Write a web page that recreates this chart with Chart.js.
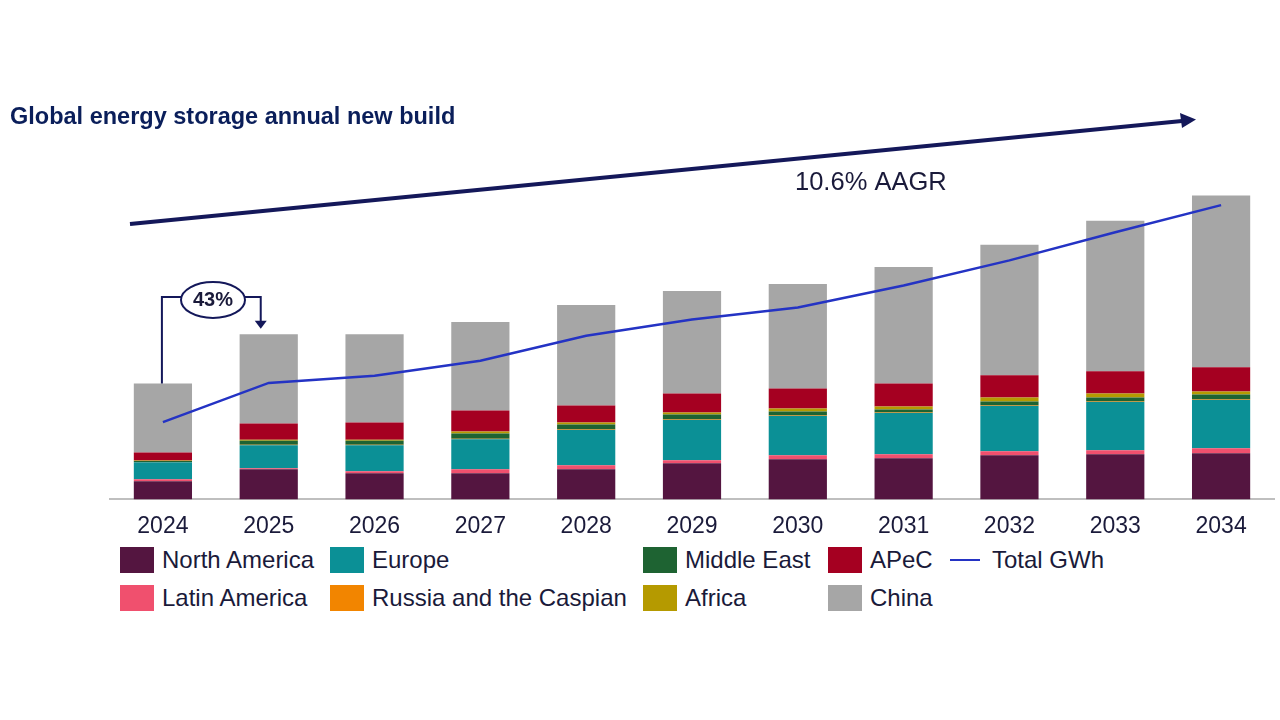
<!DOCTYPE html>
<html><head><meta charset="utf-8">
<script src="https://cdn.jsdelivr.net/npm/chart.js@4"></script>
<style>
body{margin:0;width:1280px;height:720px;background:#fff;font-family:"Liberation Sans",Arial,sans-serif;position:relative;overflow:hidden}
#c{position:absolute;left:0;top:0}
.lg{position:absolute;font-size:24px;color:#1a1a3a;display:flex;align-items:center}
.sw{width:34px;height:26px;margin-right:8px}
.ln{width:30px;height:2px;background:#2433c4;margin-right:12px}
</style></head><body>
<canvas id="c" width="1280" height="545"></canvas>
<div id="legend"></div>
<script>
const years=["2024","2025","2026","2027","2028","2029","2030","2031","2032","2033","2034"];
const northAmerica=[18,30,26,26,30,36,40,41,44,45,46];
const latinAmerica=[2,1,2,4,4,3,4,4,4,4,5];
const europe=[17,23,26,30,35,40,39,41,45,48,48];
const russiaCaspian=[0.3,0.5,0.5,0.5,0.5,0.5,0.5,0.5,0.5,0.5,0.5];
const middleEast=[1,4,4,5,5,5,4,3,4,4,5];
const africa=[0.5,1,1,2,2,2,3,3,4,4,3];
const apec=[8,16,17,21,17,19,20,23,22,22,24];
const china=[68.5,89,88,88,100,102,104,116,130,150,171];
const totalGWh=[77,116,123,138,163,179,191,213,238,266,293];
const series=[
 ["North America",northAmerica,"#541540"],
 ["Latin America",latinAmerica,"#f0506e"],
 ["Europe",europe,"#0b9096"],
 ["Russia and the Caspian",russiaCaspian,"#f28500"],
 ["Middle East",middleEast,"#1e6332"],
 ["Africa",africa,"#b59a00"],
 ["APeC",apec,"#a50021"],
 ["China",china,"#a6a6a6"]];
const navy="#14185a";
const overlay={id:"ov",afterDraw(ch){
 const c=ch.ctx,x=ch.scales.x,y=ch.scales.y;
 c.save();
 c.fillStyle="#0a1e5a";c.font="bold 23.5px 'Liberation Sans',Arial";c.textBaseline="middle";
 c.fillText("Global energy storage annual new build",10,118);
 c.strokeStyle=navy;c.fillStyle=navy;c.lineWidth=4;
 c.beginPath();c.moveTo(130,224);c.lineTo(1182,121);c.stroke();
 c.beginPath();c.moveTo(1196,119.5);c.lineTo(1180,113);c.lineTo(1182,128);c.closePath();c.fill();
 c.fillStyle="#1a1a3a";c.font="25.5px 'Liberation Sans',Arial";
 c.fillText("10.6% AAGR",795,183);
 const x0=x.getPixelForValue(0),x1=x.getPixelForValue(1);
 const yb=y.getPixelForValue(northAmerica[0]+latinAmerica[0]+europe[0]+russiaCaspian[0]+middleEast[0]+africa[0]+apec[0]+china[0]);
 const yt=y.getPixelForValue(164);
 c.lineWidth=2;c.strokeStyle=navy;
 c.beginPath();c.moveTo(x0-1,yb);c.lineTo(x0-1,297);c.lineTo(181,297);c.stroke();
 c.beginPath();c.moveTo(245,297);c.lineTo(x1-8,297);c.lineTo(x1-8,yt-12);c.stroke();
 c.fillStyle=navy;c.beginPath();c.moveTo(x1-14,yt-14);c.lineTo(x1-2,yt-14);c.lineTo(x1-8,yt-6);c.closePath();c.fill();
 c.beginPath();c.ellipse(213,300,32,18,0,0,2*Math.PI);c.fillStyle="#fff";c.fill();c.stroke();
 c.fillStyle="#1a1a3a";c.font="bold 20px 'Liberation Sans',Arial";c.textAlign="center";
 c.fillText("43%",213,300);
 c.restore();}};
new Chart(document.getElementById("c"),{
 data:{labels:years,datasets:[
  {type:"line",label:"Total GWh",data:totalGWh,borderColor:"#2433c4",borderWidth:2.5,pointRadius:0,tension:0,order:0},
  ...series.map(s=>({type:"bar",label:s[0],data:s[1],backgroundColor:s[2],barPercentage:0.55,categoryPercentage:1,order:1}))]},
 options:{responsive:false,animation:false,
  layout:{padding:{left:110,right:6,top:180,bottom:0}},
  plugins:{legend:{display:false},tooltip:{enabled:false}},
  scales:{x:{stacked:true,grid:{display:false},border:{color:"#bfbfbf",width:2},
     ticks:{color:"#1a1a3a",font:{size:23,family:"'Liberation Sans',Arial"},padding:5}},
   y:{stacked:true,min:0,max:318,display:false}}},
 plugins:[overlay]});
const items=[["North America","#541540",120,560],["Europe","#0b9096",330,560],["Middle East","#1e6332",643,560],["APeC","#a50021",828,560],
 ["Latin America","#f0506e",120,598],["Russia and the Caspian","#f28500",330,598],["Africa","#b59a00",643,598],["China","#a6a6a6",828,598]];
const L=document.getElementById("legend");
items.forEach(i=>{const d=document.createElement("div");d.className="lg";d.style.left=i[2]+"px";d.style.top=(i[3]-14)+"px";
 d.innerHTML='<span class="sw" style="background:'+i[1]+'"></span>'+i[0];L.appendChild(d);});
const d=document.createElement("div");d.className="lg";d.style.left="950px";d.style.top="546px";d.innerHTML='<span class="ln"></span>Total GWh';L.appendChild(d);
</script></body></html>
